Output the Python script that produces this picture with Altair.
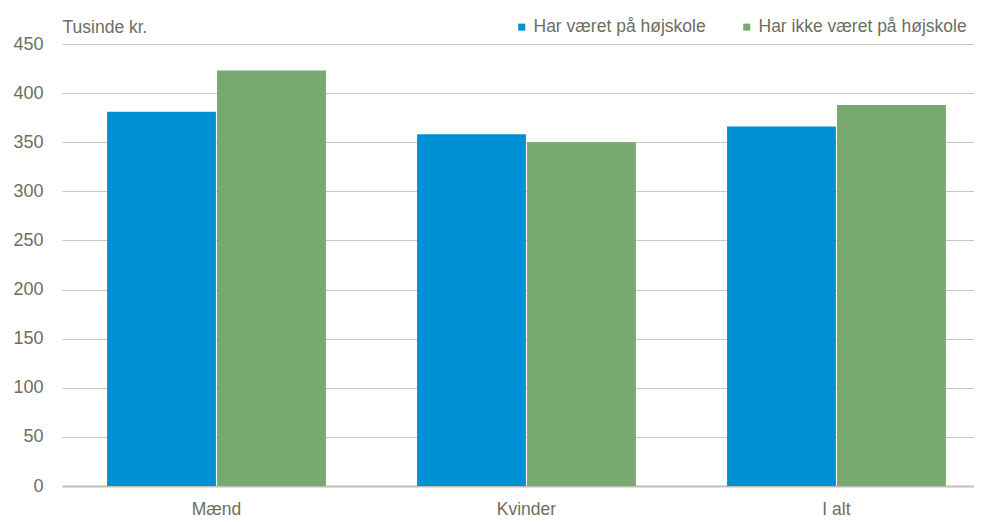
import altair as alt
import pandas as pd

categories = ["Mænd", "Kvinder", "I alt"]
series = ["Har været på højskole", "Har ikke været på højskole"]
har_vaeret = [381, 358, 366]
har_ikke_vaeret = [423, 350, 388]
colors = ["#0090D6", "#78AA70"]

rows = []
for i, c in enumerate(categories):
    rows.append({"kategori": c, "gruppe": series[0], "vaerdi": har_vaeret[i]})
    rows.append({"kategori": c, "gruppe": series[1], "vaerdi": har_ikke_vaeret[i]})
df = pd.DataFrame(rows)

TXT = "#6E6E60"
REG = "Liberation Sans, Arial"

chart = alt.Chart(df).mark_bar().encode(
    x=alt.X("kategori:N", sort=categories, title=None,
            scale=alt.Scale(paddingInner=0.294, paddingOuter=0.118, align=0.616),
            axis=alt.Axis(labelAngle=0, labelFont=REG, labelFontSize=17.5, labelColor=TXT,
                          labelPadding=14, ticks=False, domain=True, domainColor="#BFBFB4",
                          domainWidth=2, grid=False)),
    xOffset=alt.XOffset("gruppe:N", sort=series, scale=alt.Scale(paddingInner=0.01)),
    y=alt.Y("vaerdi:Q", title="Tusinde kr.",
            scale=alt.Scale(domain=[0, 450], nice=False),
            axis=alt.Axis(values=list(range(0, 451, 50)), labelFont=REG, labelFontSize=18,
                          labelColor=TXT, labelPadding=19, ticks=False, domain=False,
                          grid=True, gridColor="#C8C8BE", gridWidth=1.2,
                          titleAngle=0, titleAlign="left", titleBaseline="alphabetic",
                          titleX=0, titleY=-12, titleFont=REG, titleFontSize=17.5,
                          titleFontWeight="normal", titleColor=TXT)),
    color=alt.Color("gruppe:N", sort=series, title=None,
                    scale=alt.Scale(domain=series, range=colors),
                    legend=alt.Legend(orient="none", direction="horizontal",
                                      legendX=451, legendY=-26,
                                      symbolType="square", symbolSize=49,
                                      symbolStrokeWidth=0, labelFont=REG,
                                      labelFontSize=17.5, labelColor=TXT, labelLimit=0,
                                      labelOffset=3, columnPadding=32)),
).properties(
    width=912, height=442,
    autosize=alt.AutoSizeParams(type="none"),
    padding={"left": 54, "top": 36, "right": 0, "bottom": 34},
).configure_view(stroke=None)

chart.save("out.html", embed_options={"renderer": "svg", "actions": False})
